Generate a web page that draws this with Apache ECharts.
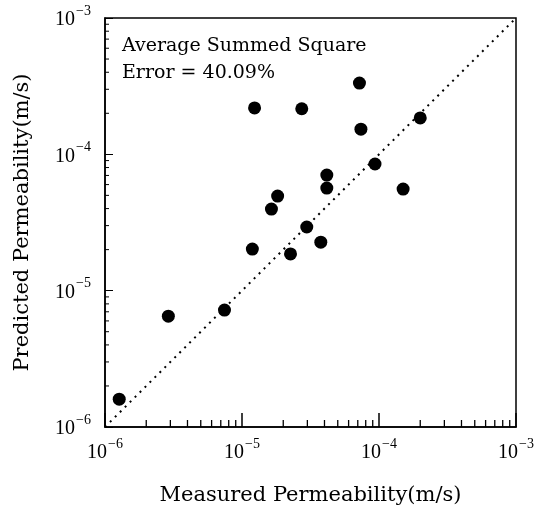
<!DOCTYPE html>
<html>
<head>
<meta charset="utf-8">
<script src="https://cdn.jsdelivr.net/npm/echarts@6/dist/echarts.min.js"></script>
<style>html,body{margin:0;padding:0;background:#fff}#c{width:535px;height:510px}</style>
</head>
<body>
<div id="c"></div>
<script>
// Data (m/s)
var measured  = [1.27e-6, 2.9e-6, 7.45e-6, 1.19e-5, 2.26e-5, 3.76e-5, 2.97e-5, 1.64e-5, 1.82e-5, 4.16e-5, 4.16e-5, 9.35e-5, 1.5e-4, 2.0e-4, 7.38e-5, 7.2e-5, 1.235e-5, 2.73e-5];
var predicted = [1.6e-6, 6.5e-6, 7.2e-6, 2.02e-5, 1.86e-5, 2.27e-5, 2.93e-5, 3.97e-5, 4.94e-5, 5.66e-5, 7.05e-5, 8.49e-5, 5.56e-5, 1.85e-4, 1.53e-4, 3.33e-4, 2.19e-4, 2.16e-4];
var axisMin = 1e-6, axisMax = 1e-3;
var minorTickValues = [2e-6,3e-6,4e-6,5e-6,6e-6,7e-6,8e-6,9e-6,2e-5,3e-5,4e-5,5e-5,6e-5,7e-5,8e-5,9e-5,2e-4,3e-4,4e-4,5e-4,6e-4,7e-4,8e-4,9e-4];
var annotationLines = ['Average Summed Square', 'Error = 40.09%'];
var xName = 'Measured Permeability(m/s)';
var yName = 'Predicted Permeability(m/s)';

var points = measured.map(function(m, i){ return [m, predicted[i]]; });
var serif = '"Liberation Serif", "DejaVu Serif", serif';
var wideSerif = '"DejaVu Serif", "Liberation Serif", serif';

function expLabel(v){
  var e = Math.round(Math.log10(v));
  return '{base|10}{sup|' + (e < 0 ? '\u2212' + (-e) : e) + '}';
}
var richLab = {
  base: {fontSize: 20, fontFamily: serif, color: '#000', lineHeight: 24, verticalAlign: 'bottom'},
  sup: {fontSize: 14, fontFamily: serif, color: '#000', lineHeight: 24, verticalAlign: 'bottom', padding: [0,0,12,1]}
};

var chart = echarts.init(document.getElementById('c'));
chart.setOption({
  animation: false,
  backgroundColor: '#fff',
  grid: {left: 105, right: 19, top: 18, bottom: 83, outerBoundsMode: 'none', containLabel: false,
         show: true, borderColor: '#000', borderWidth: 1.5, backgroundColor: 'transparent'},
  xAxis: {
    type: 'log', logBase: 10, min: axisMin, max: axisMax,
    name: xName, nameLocation: 'middle', nameGap: 58,
    nameTextStyle: {fontFamily: wideSerif, fontSize: 21, color: '#000'},
    axisLine: {show: true, lineStyle: {color: '#000', width: 1.5}},
    axisTick: {show: true, inside: true, length: 14, lineStyle: {color: '#000', width: 1.5}},
    splitLine: {show: false},
    axisLabel: {formatter: expLabel, rich: richLab, color: '#000', margin: 12}
  },
  yAxis: {
    type: 'log', logBase: 10, min: axisMin, max: axisMax,
    name: yName, nameLocation: 'middle', nameGap: 72, nameRotate: 90,
    nameTextStyle: {fontFamily: wideSerif, fontSize: 21, color: '#000'},
    axisLine: {show: true, lineStyle: {color: '#000', width: 1.5}},
    axisTick: {show: true, inside: true, length: 8, lineStyle: {color: '#000', width: 1}},
    splitLine: {show: false},
    axisLabel: {formatter: expLabel, rich: richLab, color: '#000', margin: 14}
  },
  graphic: [{
    type: 'text', left: 122, top: 33,
    style: {text: annotationLines.join('\n'), font: '19px ' + wideSerif, fill: '#000', lineHeight: 27}
  }],
  series: [
    {
      type: 'line', data: [[axisMin, axisMin], [axisMax, axisMax]],
      symbol: 'none', silent: true,
      lineStyle: {color: '#000', width: 2, type: [2, 5]}
    },
    {
      type: 'custom', silent: true, coordinateSystem: 'cartesian2d',
      data: minorTickValues.map(function(v){ return [v, axisMin]; }),
      renderItem: function(params, api){
        var p = api.coord([api.value(0), axisMin]);
        return {type: 'line', shape: {x1: p[0], y1: p[1], x2: p[0], y2: p[1] - 7}, style: {stroke: '#000', lineWidth: 1.3}};
      }
    },
    {
      type: 'custom', silent: true, coordinateSystem: 'cartesian2d',
      data: minorTickValues.map(function(v){ return [axisMin, v]; }),
      renderItem: function(params, api){
        var p = api.coord([axisMin, api.value(1)]);
        return {type: 'line', shape: {x1: p[0], y1: p[1], x2: p[0] + 4, y2: p[1]}, style: {stroke: '#000', lineWidth: 1}};
      }
    },
    {
      type: 'scatter', data: points, symbol: 'circle', symbolSize: 13,
      itemStyle: {color: '#000', opacity: 1}
    }
  ]
});
</script>
</body>
</html>
